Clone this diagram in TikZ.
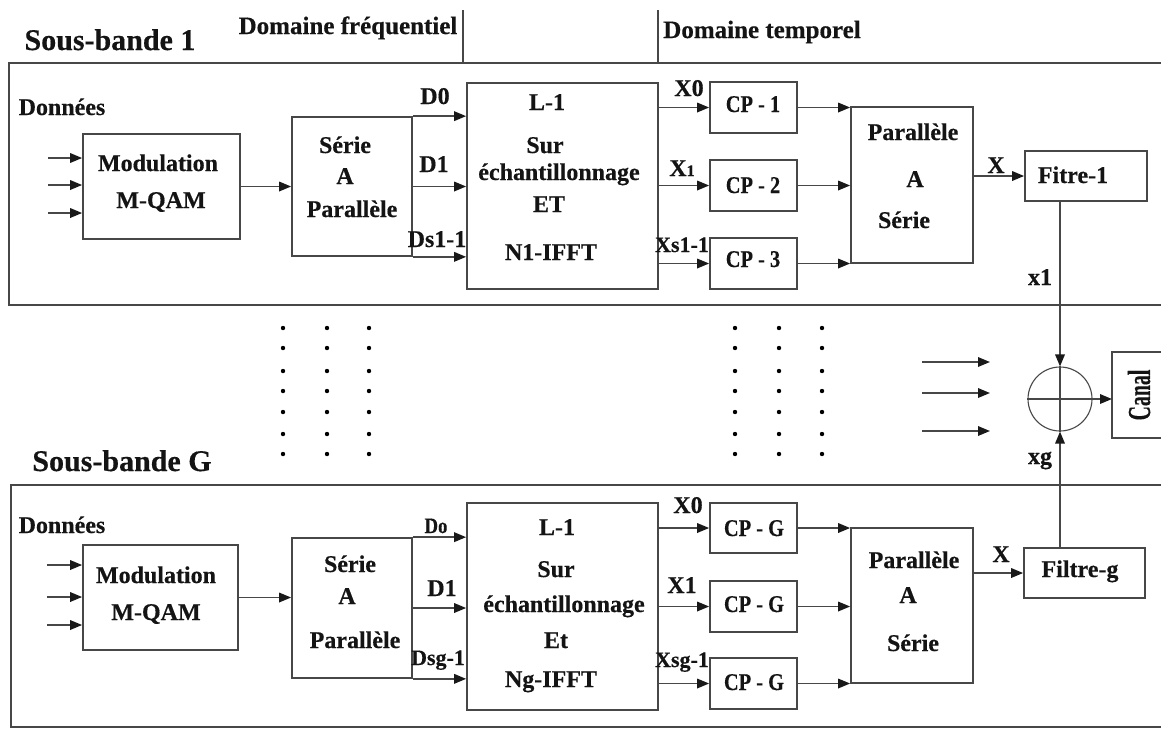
\documentclass[tikz,border=0pt]{standalone}
\usepackage{fontspec}
\usepackage{graphicx}
\setmainfont[BoldFeatures={FakeBold=0.4}]{Liberation Serif}
\usetikzlibrary{arrows.meta}
\begin{document}
\begin{tikzpicture}[x=1pt,y=-1pt,
  ln/.style={draw=black!72, line width=1.7pt},
  arr/.style={ln, -{Triangle[length=12pt,width=9.5pt,color=black!90]}},
  box/.style={ln, inner sep=0pt},
  t/.style={font=\fontsize{24}{24}\selectfont\bfseries, text=black!92, inner sep=0pt, anchor=base},
  ts/.style={t, font=\fontsize{22}{22}\selectfont\bfseries},
  ttl/.style={t, font=\fontsize{30}{30}\selectfont\bfseries},
  dom/.style={t, font=\fontsize{25}{25}\selectfont\bfseries},
  dotc/.style={fill=black, draw=none}]
\fill[white] (0,0) rectangle (1161,729);
\useasboundingbox (0,0) rectangle (1161,729);

% ---------- headings ----------
\node[ttl] (sb1) at (110,50) {Sous-bande 1};
\node[dom] (dfreq) at (348,34) {Domaine fréquentiel};
\node[dom] (dtemp) at (762,38) {Domaine temporel};
\coordinate (v1t) at (463,10); \coordinate (v1b) at (463,63);
\coordinate (v2t) at (658,10); \coordinate (v2b) at (658,63);
\draw[ln] (v1t) -- (v1b);
\draw[ln] (v2t) -- (v2b);

% ---------- outer frames ----------
\draw[ln] (1161,63) -- (9,63) -- (9,305) -- (1161,305);
\draw[ln] (1161,485) -- (11,485) -- (11,727) -- (1161,727);

% ================= Sous-bande 1 =================
\node[t] (don1) at (62,115) {Données};
\node[box, minimum width=157pt, minimum height=105pt] (mod1) at (161.5,186.5) {};
\node[t] at (158,171) {Modulation};
\node[t] at (161,208) {M-QAM};
\foreach \yy/\nm in {158/a,185/b,213/c}{
  \coordinate (in1\nm) at (48,\yy);
  \draw[arr] (in1\nm) -- (in1\nm -| mod1.west);
}
\node[box, minimum width=120pt, minimum height=139pt] (ser1) at (352,186.5) {};
\node[t] at (345,153) {Série};
\node[t] at (345,184) {A};
\node[t] at (352,217) {Parallèle};
\draw[arr] (mod1.east) -- (mod1.east -| ser1.west);

\node[box, minimum width=191pt, minimum height=206pt] (ifft1) at (562.5,186) {};
\node[t] at (547,110) {L-1};
\node[t] at (545,153) {Sur};
\node[t] at (559,180) {échantillonnage};
\node[t] at (549,212) {ET};
\node[t] at (551,260) {N1-IFFT};
\draw[arr] (ser1.north east) -- (ser1.north east -| ifft1.west);
\draw[arr] (ser1.east) -- (ser1.east -| ifft1.west);
\draw[arr] (ser1.south east) -- (ser1.south east -| ifft1.west);
\node[t] at (435,104) {D0};
\node[t] at (434,172) {D1};
\node[t] at (437,247) {Ds1-1};

\node[box, minimum width=87pt, minimum height=51pt] (cp1a) at (753.5,107.5) {};
\node[box, minimum width=87pt, minimum height=51pt] (cp1b) at (753.5,185.5) {};
\node[box, minimum width=87pt, minimum height=51pt] (cp1c) at (753.5,263.5) {};
\node[t] at (753,112) {\scalebox{0.85}[1]{CP - 1}};
\node[t] at (753,193) {\scalebox{0.85}[1]{CP - 2}};
\node[t] at (753,267) {\scalebox{0.85}[1]{CP - 3}};
\foreach \c in {cp1a,cp1b,cp1c}{
  \draw[arr] (\c.west -| ifft1.east) -- (\c.west);
}
\node[t] at (689,96) {X0};
\node[t] at (682,176) {X{\fontsize{16}{16}\selectfont 1}};
\node[ts] at (682,252) {Xs1-1};

\node[box, minimum width=122pt, minimum height=156pt] (par1) at (912,185) {};
\node[t] at (913,140) {Parallèle};
\node[t] at (915,187) {A};
\node[t] at (904,228) {Série};
\foreach \c in {cp1a,cp1b,cp1c}{
  \draw[arr] (\c.east) -- (\c.east -| par1.west);
}
\node[box, minimum width=122pt, minimum height=50pt] (fil1) at (1086,176) {};
\node[t] at (1073,183) {Fitre-1};
\draw[arr] (par1.east |- fil1.west) -- (fil1.west);
\node[t] at (996,173) {X};

% ---------- sum and channel ----------
\node[draw=black!72, line width=1.1pt, circle, minimum size=64pt, inner sep=0pt] (sum) at (1060,399) {};
\draw[black!72, line width=1.1pt] (sum.north) -- (sum.south);
\draw[black!72, line width=1.1pt] (sum.west) -- (sum.east);
\draw[arr] (sum.north |- fil1.south) -- (sum.north);
\node[t] at (1040,285) {x1};
\draw[ln] (1161,352) -- (1112,352) -- (1112,438) -- (1161,438);
\coordinate (canin) at (1112,399);
\draw[arr] (sum.east) -- (canin);
\node[t, anchor=center, rotate=90] (canal) at (1139,395) {\fontsize{32}{32}\selectfont\scalebox{0.62}[1]{Canal}};
\foreach \yy/\nm in {362/a,393/b,431/c}{
  \coordinate (sa\nm) at (922,\yy);
  \coordinate (se\nm) at (990,\yy);
  \draw[arr] (sa\nm) -- (se\nm);
}

% ---------- dots ----------
\foreach \xx in {283,327,369,735,779,822}{
  \foreach \yy in {328,348,371,391,412,434,454}{
    \fill[dotc] (\xx,\yy) circle (2.2pt);
  }
}

% ================= Sous-bande G =================
\node[ttl] (sbg) at (122,471) {Sous-bande G};
\node[t] (don2) at (62,533) {Données};
\node[box, minimum width=155pt, minimum height=105pt] (mod2) at (160.5,597.5) {};
\node[t] at (156,583) {Modulation};
\node[t] at (156,620) {M-QAM};
\foreach \yy/\nm in {565/a,597/b,625/c}{
  \coordinate (in2\nm) at (47,\yy);
  \draw[arr] (in2\nm) -- (in2\nm -| mod2.west);
}
\node[box, minimum width=120pt, minimum height=140pt] (ser2) at (352,608) {};
\node[t] at (350,572) {Série};
\node[t] at (347,604) {A};
\node[t] at (355,648) {Parallèle};
\draw[arr] (mod2.east) -- (mod2.east -| ser2.west);

\node[box, minimum width=191pt, minimum height=207pt] (ifft2) at (562.5,606.5) {};
\node[t] at (557,535) {L-1};
\node[t] at (556,577) {Sur};
\node[t] at (564,612) {échantillonnage};
\node[t] at (556,648) {Et};
\node[t] at (551,687) {Ng-IFFT};
\draw[arr] (ser2.north east) -- (ser2.north east -| ifft2.west);
\draw[arr] (ser2.east) -- (ser2.east -| ifft2.west);
\draw[arr] (ser2.south east) -- (ser2.south east -| ifft2.west);
\node[ts] at (436,533) {\scalebox{0.85}[1]{Do}};
\node[t] at (442,596) {D1};
\node[ts] at (438,665) {Dsg-1};

\node[box, minimum width=87pt, minimum height=50pt] (cp2a) at (753.5,528) {};
\node[box, minimum width=87pt, minimum height=51pt] (cp2b) at (753.5,606.5) {};
\node[box, minimum width=87pt, minimum height=51pt] (cp2c) at (753.5,683.5) {};
\node[t] at (754,536) {\scalebox{0.85}[1]{CP - G}};
\node[t] at (754,612) {\scalebox{0.85}[1]{CP - G}};
\node[t] at (754,690) {\scalebox{0.85}[1]{CP - G}};
\foreach \c in {cp2a,cp2b,cp2c}{
  \draw[arr] (\c.west -| ifft2.east) -- (\c.west);
}
\node[t] at (688,513) {X0};
\node[t] at (682,593) {X1};
\node[ts] at (682,667) {Xsg-1};

\node[box, minimum width=122pt, minimum height=155pt] (par2) at (912,605.5) {};
\node[t] at (914,568) {Parallèle};
\node[t] at (908,603) {A};
\node[t] at (913,651) {Série};
\foreach \c in {cp2a,cp2b,cp2c}{
  \draw[arr] (\c.east) -- (\c.east -| par2.west);
}
\node[box, minimum width=121pt, minimum height=50pt] (fil2) at (1084.5,573) {};
\node[t] at (1080,577) {Filtre-g};
\draw[arr] (par2.east |- fil2.west) -- (fil2.west);
\node[t] at (1001,562) {X};
\draw[arr] (sum.south |- fil2.north) -- (sum.south);
\node[t] at (1040,464) {xg};
\end{tikzpicture}
\end{document}
